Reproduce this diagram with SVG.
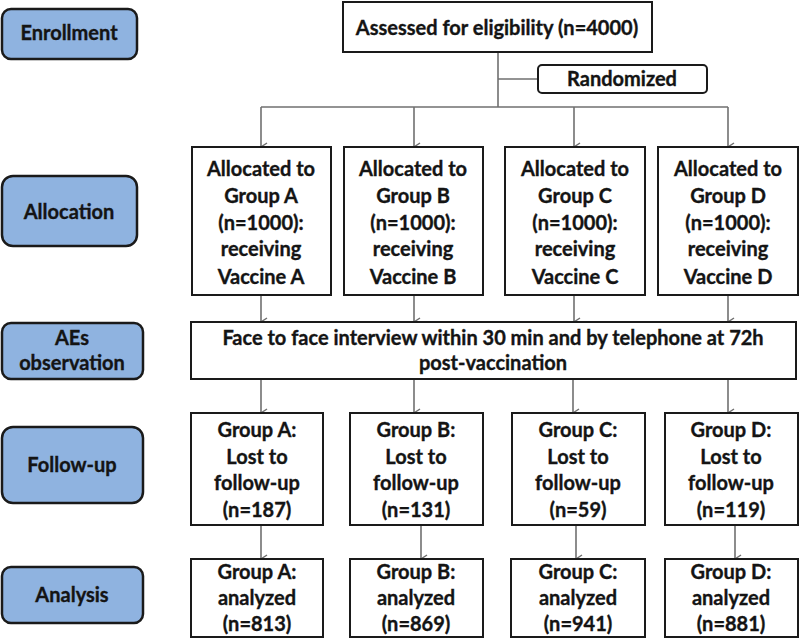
<svg xmlns="http://www.w3.org/2000/svg" width="800" height="639" viewBox="0 0 800 639">
<style>
text{font-family:Lato,"Liberation Sans",sans-serif;font-weight:bold;font-size:20px;fill:#141414;stroke:#141414;stroke-width:0.35;text-anchor:middle}
.lab{fill:#8fb3e0;stroke:#1a1a1a;stroke-width:2.5}
.box{fill:#fff;stroke:#1a1a1a;stroke-width:2}
.con{fill:none;stroke:#707070;stroke-width:1.6}
</style>
<defs>
<marker id="ah" viewBox="0 0 10 10" refX="5" refY="9" markerWidth="10" markerHeight="10" markerUnits="userSpaceOnUse" orient="auto-start-reverse">
<path d="M1,3 L5,9 L9,3" fill="none" stroke="#707070" stroke-width="1.5"/>
</marker>
</defs>
<rect width="800" height="639" fill="#fff"/>
<g id="connectors">
<path class="con" d="M498,52 V107 M498,79 H538 M261,107 H728"/>
<path class="con" marker-end="url(#ah)" d="M261,107 V147"/>
<path class="con" marker-end="url(#ah)" d="M414,107 V147"/>
<path class="con" marker-end="url(#ah)" d="M574,107 V147"/>
<path class="con" marker-end="url(#ah)" d="M728,107 V147"/>
<path class="con" marker-end="url(#ah)" d="M261,295 V322"/>
<path class="con" marker-end="url(#ah)" d="M414,295 V322"/>
<path class="con" marker-end="url(#ah)" d="M574,295 V322"/>
<path class="con" marker-end="url(#ah)" d="M728,295 V322"/>
<path class="con" marker-end="url(#ah)" d="M261,379 V413"/>
<path class="con" marker-end="url(#ah)" d="M414,379 V413"/>
<path class="con" marker-end="url(#ah)" d="M573,379 V413"/>
<path class="con" marker-end="url(#ah)" d="M728,379 V413"/>
<path class="con" marker-end="url(#ah)" d="M261,525 V559"/>
<path class="con" marker-end="url(#ah)" d="M421,525 V559"/>
<path class="con" marker-end="url(#ah)" d="M576,525 V559"/>
<path class="con" marker-end="url(#ah)" d="M735,525 V559"/>
</g>
<g id="enrollment"><rect class="lab" x="2" y="9" width="135" height="50" rx="9"/><text x="69" y="40">Enrollment</text></g>
<g id="allocation"><rect class="lab" x="2" y="176" width="135" height="70" rx="11"/><text x="69" y="219">Allocation</text></g>
<g id="aes"><rect class="lab" x="2" y="323" width="141" height="56" rx="9"/><text x="72" y="345">AEs</text><text x="72" y="370">observation</text></g>
<g id="followup"><rect class="lab" x="2" y="427" width="141" height="76" rx="11"/><text x="72" y="472">Follow-up</text></g>
<g id="analysis"><rect class="lab" x="2" y="567" width="141" height="56" rx="9"/><text x="72" y="602">Analysis</text></g>
<g id="assessed"><rect class="box" x="343" y="2" width="309" height="50"/><text x="497" y="35">Assessed for eligibility (n=4000)</text></g>
<g id="randomized"><rect class="box" x="538" y="65" width="169" height="28" rx="4"/><text x="622" y="86">Randomized</text></g>
<g id="allocA"><rect class="box" x="192" y="147" width="139" height="148"/><text x="261" y="176">Allocated to</text><text x="261" y="203">Group A</text><text x="261" y="230">(n=1000):</text><text x="261" y="256">receiving</text><text x="261" y="284">Vaccine A</text></g>
<g id="allocB"><rect class="box" x="344" y="147" width="139" height="148"/><text x="413" y="176">Allocated to</text><text x="413" y="203">Group B</text><text x="413" y="230">(n=1000):</text><text x="413" y="256">receiving</text><text x="413" y="284">Vaccine B</text></g>
<g id="allocC"><rect class="box" x="505" y="147" width="140" height="148"/><text x="575" y="176">Allocated to</text><text x="575" y="203">Group C</text><text x="575" y="230">(n=1000):</text><text x="575" y="256">receiving</text><text x="575" y="284">Vaccine C</text></g>
<g id="allocD"><rect class="box" x="658" y="147" width="140" height="148"/><text x="728" y="176">Allocated to</text><text x="728" y="203">Group D</text><text x="728" y="230">(n=1000):</text><text x="728" y="256">receiving</text><text x="728" y="284">Vaccine D</text></g>
<g id="interview"><rect class="box" x="191" y="322" width="605" height="57"/><text x="493" y="345">Face to face interview within 30 min and by telephone at 72h</text><text x="493" y="370">post-vaccination</text></g>
<g id="lostA"><rect class="box" x="191" y="413" width="132" height="112"/><text x="257" y="437">Group A:</text><text x="257" y="464">Lost to</text><text x="257" y="490">follow-up</text><text x="257" y="517">(n=187)</text></g>
<g id="lostB"><rect class="box" x="350" y="413" width="133" height="112"/><text x="416" y="437">Group B:</text><text x="416" y="464">Lost to</text><text x="416" y="490">follow-up</text><text x="416" y="517">(n=131)</text></g>
<g id="lostC"><rect class="box" x="512" y="413" width="133" height="112"/><text x="578" y="437">Group C:</text><text x="578" y="464">Lost to</text><text x="578" y="490">follow-up</text><text x="578" y="517">(n=59)</text></g>
<g id="lostD"><rect class="box" x="665" y="413" width="133" height="112"/><text x="731" y="437">Group D:</text><text x="731" y="464">Lost to</text><text x="731" y="490">follow-up</text><text x="731" y="517">(n=119)</text></g>
<g id="anaA"><rect class="box" x="191" y="559" width="132" height="78"/><text x="257" y="579">Group A:</text><text x="257" y="605">analyzed</text><text x="257" y="631">(n=813)</text></g>
<g id="anaB"><rect class="box" x="350" y="559" width="133" height="78"/><text x="416" y="579">Group B:</text><text x="416" y="605">analyzed</text><text x="416" y="631">(n=869)</text></g>
<g id="anaC"><rect class="box" x="511" y="559" width="134" height="78"/><text x="578" y="579">Group C:</text><text x="578" y="605">analyzed</text><text x="578" y="631">(n=941)</text></g>
<g id="anaD"><rect class="box" x="665" y="559" width="133" height="78"/><text x="731" y="579">Group D:</text><text x="731" y="605">analyzed</text><text x="731" y="631">(n=881)</text></g>
</svg>
